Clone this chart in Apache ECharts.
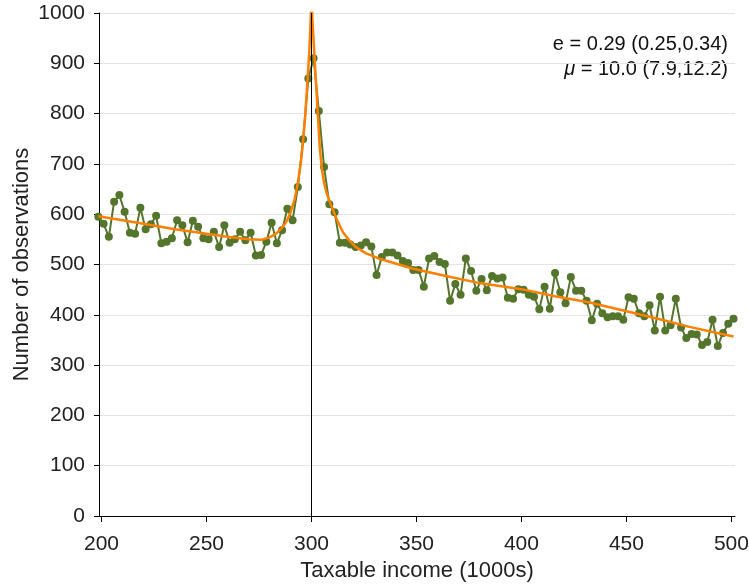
<!DOCTYPE html>
<html>
<head>
<meta charset="utf-8">
<script src="https://cdn.jsdelivr.net/npm/echarts@6/dist/echarts.min.js"></script>
<style>html,body{margin:0;padding:0;background:#fff}#c{width:749px;height:585px}</style>
</head>
<body>
<div id="c"></div>
<script>
// Bin centres (taxable income, 1000s)
const binCenters = [
198.5,201,203.5,206,208.5,211,213.5,216,218.5,221,223.5,226,228.5,231,233.5,236,238.5,241,243.5,246,
248.5,251,253.5,256,258.5,261,263.5,266,268.5,271,273.5,276,278.5,281,283.5,286,288.5,291,293.5,296,
298.5,301,303.5,306,308.5,311,313.5,316,318.5,321,323.5,326,328.5,331,333.5,336,338.5,341,343.5,346,
348.5,351,353.5,356,358.5,361,363.5,366,368.5,371,373.5,376,378.5,381,383.5,386,388.5,391,393.5,396,
398.5,401,403.5,406,408.5,411,413.5,416,418.5,421,423.5,426,428.5,431,433.5,436,438.5,441,443.5,446,
448.5,451,453.5,456,458.5,461,463.5,466,468.5,471,473.5,476,478.5,481,483.5,486,488.5,491,493.5,496,
498.5,501
];
// Observed counts
const observed = [
595,581,555,625,638,605,563,561,613,570,580,597,542,545,552,588,578,544,587,575,
552,550,565,535,578,543,550,565,548,563,518,519,545,583,542,568,611,588,654,749,
870,910,805,694,620,604,543,543,540,535,538,544,536,479,515,524,524,518,507,503,
489,489,456,512,517,505,501,428,461,440,512,487,448,471,449,477,472,474,434,432,
451,450,440,436,411,456,412,483,445,423,475,448,448,428,389,422,403,395,397,397,
390,435,432,403,397,419,369,436,369,379,432,375,354,362,361,340,346,390,338,364,
382,392
];
// Fitted curve
const fitX = [198.5,210,220,235,250,260,270,276,280,283,286,288,290,292,293.5,295,296,297,298,299,299.6,300,
300.4,301,302,303,304,305,306,307,308.5,310,312,315,318,321,326,332,340,348,364,380,400,416,432,448,464,480,501];
const fitY = [596,588,581,570,561,555,550,549,554,561,573,585,603,630,662,705,745,795,860,925,985,1040,
990,945,872,800,730,688,662,645,627,611,590,564,548,535,522,512,502,492,477,463,451,437,425,409,393,376,357];
const xTicks = [200,250,300,350,400,450,500];
const threshold = 300;
const annotE = 'e = 0.29 (0.25,0.34)';
const annotMu = ' = 10.0 (7.9,12.2)';

const FONT = '"Liberation Sans", Arial, Helvetica, sans-serif';
const chart = echarts.init(document.getElementById('c'), null, {renderer: 'canvas'});
chart.setOption({
  animation: false,
  backgroundColor: '#fff',
  grid: {left: 99, right: 14, top: 13, bottom: 69, containLabel: false, outerBoundsMode: 'none'},
  xAxis: {
    type: 'value', min: 198.8, max: 501.7,
    name: 'Taxable income (1000s)', nameLocation: 'middle', nameGap: 42,
    nameTextStyle: {fontFamily: FONT, fontSize: 22, color: '#222'},
    axisLine: {show: true, onZero: false, lineStyle: {color: '#000', width: 1}},
    axisTick: {show: true, customValues: xTicks, length: 6, lineStyle: {color: '#000'}},
    axisLabel: {customValues: xTicks, fontFamily: FONT, fontSize: 21, color: '#222', margin: 18},
    splitLine: {show: false}
  },
  yAxis: {
    type: 'value', min: 0, max: 1000, interval: 100,
    name: 'Number of observations', nameLocation: 'middle', nameGap: 66, nameMoveOverlap: false,
    nameTextStyle: {fontFamily: FONT, fontSize: 22, color: '#222'},
    axisLine: {show: true, lineStyle: {color: '#000', width: 1}},
    axisTick: {show: true, length: 5, lineStyle: {color: '#000'}},
    axisLabel: {fontFamily: FONT, fontSize: 21, color: '#222', margin: 14, formatter: v => String(v)},
    splitLine: {show: true, lineStyle: {color: '#e3e3e3', width: 1}}
  },
  series: [
    {
      type: 'line', name: 'observed',
      data: binCenters.map((x, i) => [x, observed[i]]),
      clip: false, z: 3,
      symbol: 'circle', symbolSize: 8, showSymbol: true,
      itemStyle: {color: '#54762c'},
      lineStyle: {color: '#54762c', width: 2},
      markLine: {
        silent: true, symbol: 'none', label: {show: false},
        lineStyle: {color: '#000', width: 1, type: 'solid'},
        data: [{xAxis: threshold}]
      }
    },
    {
      type: 'line', name: 'fit',
      data: fitX.map((x, i) => [x, fitY[i]]),
      clip: true, z: 4, showSymbol: false, symbol: 'none', smooth: false,
      lineStyle: {color: '#ff7f00', width: 2.5}
    }
  ],
  graphic: [
    {type: 'text', right: 21, top: 34, style: {text: annotE, fontFamily: FONT, fontSize: 20, fill: '#111', textAlign: 'right'}},
    {type: 'text', right: 21, top: 59, style: {
      text: '{m|μ}{t|' + annotMu + '}', fontFamily: FONT, fontSize: 20, fill: '#111',
      rich: {m: {fontStyle: 'italic', fontFamily: FONT, fontSize: 20, fill: '#111'}, t: {fontFamily: FONT, fontSize: 20, fill: '#111'}}
    }}
  ]
});
</script>
</body>
</html>
